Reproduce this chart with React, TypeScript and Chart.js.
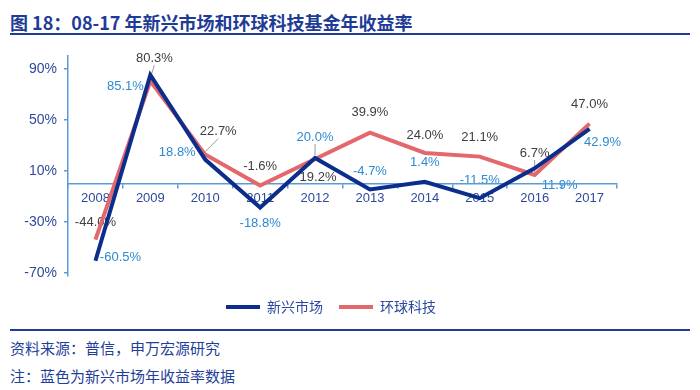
import React, { useEffect, useRef } from 'react';
import { Chart, registerables } from 'chart.js';

Chart.register(...registerables);

// ---- data ----
const years = ['2008', '2009', '2010', '2011', '2012', '2013', '2014', '2015', '2016', '2017'];
const emergingMarkets = [-60.5, 85.1, 18.8, -18.8, 20.0, -4.7, 1.4, -11.5, 11.9, 42.9];
const globalTech = [-44.0, 80.3, 22.7, -1.6, 19.2, 39.9, 24.0, 21.1, 6.7, 47.0];
const seriesNames = ['新兴市场', '环球科技'];
const yTickValues = [-70, -30, 10, 50, 90];

const titleText = '图 18：08-17 年新兴市场和环球科技基金年收益率';
const sourceText = '资料来源：普信，申万宏源研究';
const noteText = '注：蓝色为新兴市场年收益率数据';

// ---- label placement (pixel offsets from each point) ----
const emLabelOffsets = [[25, -3], [-25, 11], [-28, -7], [0, 16], [0, -21], [0, -18], [0, -19], [0, -18], [25, 17], [13, 14]];
const gtLabelOffsets = [[0, -17], [4, -23], [13, -23], [0, -19], [3, 18], [0, -20], [0, -18], [0, -19], [0, -22], [0, -19]];
const emLeaders = [false, false, false, false, true, false, false, false, false, false];
const gtLeaders = [false, true, true, false, false, false, false, false, true, false];

const BLUE = '#0b2d8c';
const RED = '#e3676b';
const AXIS = '#5b9bd5';
const TICK_TEXT = '#2e4a9e';
const DARK_BLUE = '#1e3c96';
const LABEL_FONT = '"Liberation Sans", Arial, sans-serif';
const LEGEND_LEFT = 45;

const labelSpecs = [
  { offsets: emLabelOffsets, leaders: emLeaders, color: '#2f8ad0' },
  { offsets: gtLabelOffsets, leaders: gtLeaders, color: '#404040' },
];

const valueLabelPlugin = {
  id: 'valueLabels',
  afterLayout(chart: any) {
    if (chart.legend) {
      chart.legend.left = LEGEND_LEFT;
    }
  },
  beforeDraw(chart: any) {
    const ctx = chart.ctx;
    ctx.save();
    ctx.font = '13px ' + LABEL_FONT;
    ctx.textAlign = 'center';
    ctx.textBaseline = 'middle';
    labelSpecs.forEach((spec, di) => {
      const meta = chart.getDatasetMeta(di);
      const values = chart.data.datasets[di].data;
      meta.data.forEach((pt: any, i: number) => {
        const [dx, dy] = spec.offsets[i];
        const lx = pt.x + dx;
        const ly = pt.y + dy;
        if (spec.leaders[i]) {
          const dir = Math.sign(pt.y - ly);
          ctx.strokeStyle = '#9a9a9a';
          ctx.lineWidth = 1;
          ctx.beginPath();
          ctx.moveTo(lx, ly + dir * 7);
          ctx.lineTo(pt.x, pt.y - dir * 3);
          ctx.stroke();
        }
        ctx.fillStyle = spec.color;
        ctx.fillText(Number(values[i]).toFixed(1) + '%', lx, ly);
      });
    });
    ctx.restore();
  },
};

export default function App() {
  const canvasRef = useRef<HTMLCanvasElement | null>(null);

  useEffect(() => {
    if (!canvasRef.current) return;
    Chart.defaults.font.family = LABEL_FONT;
    const chart = new Chart(canvasRef.current, {
      type: 'line',
      data: {
        labels: years,
        datasets: [
          {
            label: seriesNames[0],
            data: emergingMarkets,
            borderColor: BLUE,
            backgroundColor: BLUE,
            borderWidth: 4,
            pointRadius: 0,
            tension: 0,
          },
          {
            label: seriesNames[1],
            data: globalTech,
            borderColor: RED,
            backgroundColor: RED,
            borderWidth: 4,
            pointRadius: 0,
            tension: 0,
          },
        ],
      },
      options: {
        responsive: false,
        animation: false,
        layout: { padding: { left: 0, right: 83, top: 16, bottom: 1 } },
        scales: {
          x: {
            type: 'category',
            offset: true,
            position: { y: 0 } as any,
            grid: {
              display: true,
              offset: true,
              drawOnChartArea: false,
              drawTicks: true,
              tickLength: 4,
              color: AXIS,
              lineWidth: 1.5,
            },
            border: { display: true, color: AXIS, width: 1.5 },
            ticks: {
              color: TICK_TEXT,
              font: { size: 13, family: LABEL_FONT },
              padding: 3,
              maxRotation: 0,
              autoSkip: false,
            },
          },
          y: {
            type: 'linear',
            min: -72.5,
            max: 100,
            afterBuildTicks: (scale: any) => {
              scale.ticks = yTickValues.map((v) => ({ value: v }));
            },
            afterFit: (scale: any) => {
              scale.width = 68;
            },
            grid: {
              display: true,
              drawOnChartArea: false,
              drawTicks: true,
              tickLength: 4,
              color: AXIS,
              lineWidth: 1.5,
            },
            border: { display: true, color: AXIS, width: 1.5 },
            ticks: {
              color: TICK_TEXT,
              font: { size: 14, family: LABEL_FONT },
              padding: 7,
              callback: (v: any) => v + '%',
            },
          },
        },
        plugins: {
          legend: {
            display: true,
            position: 'bottom',
            title: { display: true, text: '', padding: 0, font: { size: 8, lineHeight: 1 } },
            labels: {
              usePointStyle: true,
              pointStyle: 'line',
              pointStyleWidth: 34,
              padding: 16,
              color: '#2b4a9e',
              font: { size: 14, family: '"Noto Sans CJK SC", sans-serif' },
            },
          },
          tooltip: { enabled: false },
        },
      },
      plugins: [valueLabelPlugin],
    });
    return () => chart.destroy();
  }, []);

  const textFont = '"Noto Sans CJK SC", "Noto Sans", sans-serif';

  return (
    <div style={{ position: 'absolute', left: 0, top: 0, width: 700, height: 390, background: '#fff', overflow: 'hidden' }}>
      <div
        style={{
          position: 'absolute',
          left: 10,
          top: 11,
          lineHeight: '22px',
          fontSize: 18,
          fontWeight: 700,
          fontFamily: textFont,
          color: DARK_BLUE,
          whiteSpace: 'nowrap',
        }}
      >
        {titleText}
      </div>
      <div style={{ position: 'absolute', left: 10, top: 33, width: 680, height: 2, background: DARK_BLUE }} />
      <canvas
        ref={canvasRef}
        width={700}
        height={285}
        style={{ position: 'absolute', left: 0, top: 40, width: 700, height: 285 }}
      />
      <div style={{ position: 'absolute', left: 10, top: 329, width: 680, height: 2, background: DARK_BLUE }} />
      <div
        style={{
          position: 'absolute',
          left: 10,
          top: 338,
          lineHeight: '20px',
          fontSize: 15,
          fontFamily: textFont,
          color: '#1f3f9a',
          whiteSpace: 'nowrap',
        }}
      >
        {sourceText}
      </div>
      <div
        style={{
          position: 'absolute',
          left: 10,
          top: 366,
          lineHeight: '20px',
          fontSize: 15,
          fontFamily: textFont,
          color: '#1f3f9a',
          whiteSpace: 'nowrap',
        }}
      >
        {noteText}
      </div>
    </div>
  );
}
